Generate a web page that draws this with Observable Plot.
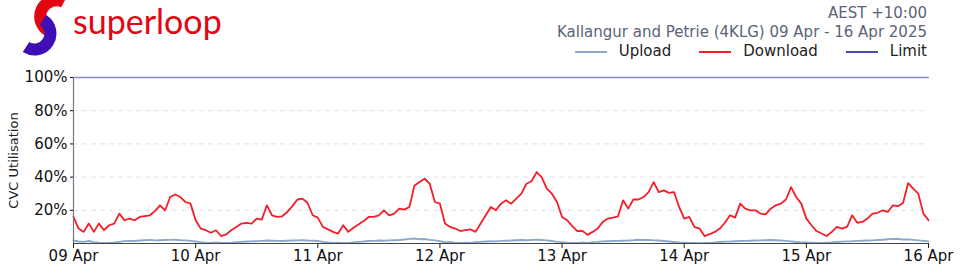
<!DOCTYPE html>
<html><head><meta charset="utf-8">
<script src="https://cdn.jsdelivr.net/npm/d3@7"></script>
<script src="https://cdn.jsdelivr.net/npm/@observablehq/plot@0.6"></script>
<style>
body{margin:0;width:960px;height:274px;position:relative;overflow:hidden;background:#fff;font-family:"DejaVu Sans",sans-serif;}
#logo{position:absolute;left:0;top:0;width:240px;height:56px;}
#logo span{position:absolute;left:73px;top:1px;font-family:"Lato",sans-serif;font-size:34px;line-height:40px;color:#e30613;}
#hdr{position:absolute;right:33px;top:4px;text-align:right;color:#5b6375;font-size:15px;line-height:19px;}
#leg{display:flex;justify-content:flex-end;align-items:center;color:#222;margin-top:0px;}
#leg .it{display:flex;align-items:center;margin-left:28px;}
#leg .sw{width:32px;height:0;border-top:2px solid;margin-right:12px;}
#chart{position:absolute;left:0;top:60px;}
</style></head><body>
<div id="logo">
<svg width="72" height="56" style="position:absolute;left:0;top:0">
<path d="M 64 2 A 15 15 0 1 0 49 31" fill="none" stroke="#e30613" stroke-width="12"/>
<path d="M 43 20 A 15 15 0 1 1 26 47" fill="none" stroke="#3d0fb4" stroke-width="12"/>
</svg>
<span>superloop</span>
</div>
<div id="hdr">
<div>AEST +10:00</div>
<div>Kallangur and Petrie (4KLG) 09 Apr - 16 Apr 2025</div>
<div id="leg"></div>
</div>
<div id="chart"></div>
<script>
const seriesNames = ["Upload", "Download", "Limit"];
const seriesColors = ["#8aaacd", "#f51d27", "#4b4bbd"];
const startDate = Date.UTC(2025, 3, 9);
const xTickLabels = ["09 Apr","10 Apr","11 Apr","12 Apr","13 Apr","14 Apr","15 Apr","16 Apr"];
const yTicks = [20, 40, 60, 80, 100];

// hourly samples, 09 Apr 00:00 .. 16 Apr 00:00 (%)
const download = [
  16,9,7,12,7,12,8,11,12,18,14,15,14,16,16.5,17,19.5,23,20,28,29.5,28,25,24,14,
  9,8,6.5,8,4.5,5.5,8,10,12,12.4,12,15,14.4,23,17,16,16.4,19,22.5,26.5,27,24.4,17,15.6,
  10,8.5,7,6,11,7,9.5,11.5,13.5,16,16,17,20,17,18,21,20.4,22,35,37,39,36,25,24,
  12,10,9,7.5,8,8.5,7,12,17,22,20,24,26,24,27,30,36,37.5,43,40,33,30,25,16,
  14,10.5,7.5,7.6,5.2,7,9,13,15,15.6,16.4,26,21,26.5,26.5,28,31,37,31,32,30.5,31,22,15,
  16,10,9,4.5,5.6,7,9,12.5,17,15.6,24,21,20,20,18,17.5,21,23,24,26.5,34,28,24,15,
  11,7.5,6,4.5,7,10,9,10,17,12.5,13,15,18,18.5,20,19,23,22.5,24.4,36.4,33,30,18,14
];
const upload = [
  1.8,1.2,1.0,1.5,0.8,0.5,0.4,0.4,0.6,1.0,1.4,1.6,1.5,1.8,2.0,2.2,1.9,2.0,2.1,2.2,2.3,2.0,1.9,1.6,1.2,
  0.8,0.5,0.4,0.6,0.3,0.4,0.5,0.8,1.0,1.2,1.3,1.4,1.6,1.8,1.7,1.6,1.5,1.7,1.8,1.9,2.0,1.8,1.7,1.5,
  1.0,0.6,0.4,0.5,0.3,0.4,0.7,1.0,1.2,1.5,1.6,1.8,1.7,1.9,2.0,2.1,2.4,2.8,3.0,2.6,2.7,2.2,1.9,1.4,
  0.6,0.9,0.4,0.3,0.5,0.4,0.8,1.0,1.2,1.4,1.3,1.6,1.7,1.8,2.0,2.1,2.0,2.2,2.3,2.1,1.9,1.5,1.0,0.8,
  0.5,0.4,0.3,0.6,0.4,0.8,1.0,1.3,1.4,1.5,1.6,1.7,1.8,2.0,2.3,2.1,2.2,1.9,1.8,1.5,1.2,0.9,0.6,0.5,
  0.4,0.3,0.2,0.3,0.4,0.6,0.9,1.1,1.2,1.4,1.5,1.6,1.7,1.8,1.9,2.0,2.1,2.0,1.8,1.6,1.3,0.9,0.7,0.6,
  0.5,0.4,0.3,0.5,0.7,0.9,1.1,1.3,1.4,1.6,1.7,1.8,1.9,2.1,2.3,2.6,2.8,2.7,2.4,2.5,2.2,1.9,1.6,1.3
];
const limit = [100, 100];

const t = i => new Date(startDate + i * 3600e3);
const upRows = upload.map((v, i) => ({t: t(i), v}));
const dnRows = download.map((v, i) => ({t: t(i), v}));
const limRows = limit.map((v, i) => ({t: t(i * 168), v}));
const dayTicks = xTickLabels.map((_, i) => t(i * 24));

// legend
const leg = document.getElementById("leg");
seriesNames.forEach((n, i) => {
  const it = document.createElement("div"); it.className = "it";
  const sw = document.createElement("div"); sw.className = "sw"; sw.style.borderTopColor = seriesColors[i];
  const tx = document.createElement("span"); tx.textContent = n;
  it.appendChild(sw); it.appendChild(tx); leg.appendChild(it);
});

const plot = Plot.plot({
  width: 960, height: 214,
  marginLeft: 73, marginRight: 32, marginTop: 17, marginBottom: 31,
  style: {fontFamily: "DejaVu Sans", fontSize: "15px", color: "#111", background: "#fff"},
  x: {type: "utc", domain: [t(0), t(168)]},
  y: {domain: [0, 100]},
  marks: [
    Plot.ruleY([20, 40, 60, 80], {stroke: "#dde2ea", strokeDasharray: "5,4"}),
    Plot.lineY(limRows, {x: "t", y: "v", stroke: seriesColors[2], strokeOpacity: 0.65, strokeWidth: 1.3}),
    Plot.lineY(upRows, {x: "t", y: "v", stroke: seriesColors[0], strokeWidth: 1.9}),
    Plot.lineY(dnRows, {x: "t", y: "v", stroke: seriesColors[1], strokeWidth: 1.8}),
    Plot.ruleX([t(0)], {stroke: "#777", strokeWidth: 1.2}),
    Plot.ruleY([0], {stroke: "#444", strokeWidth: 1.2}),
    Plot.axisX({ticks: dayTicks, tickFormat: (d, i) => xTickLabels[i], tickSize: 5, tickPadding: 2, fontSize: 15, label: null, stroke: "#222"}),
    Plot.axisY({ticks: yTicks, tickFormat: d => d + "%", tickSize: 3, tickPadding: 3, fontSize: 15, label: null}),
    Plot.text(["CVC Utilisation"], {frameAnchor: "left", dx: -60, rotate: -90, textAnchor: "middle", fontSize: 13, fill: "#222"})
  ]
});
document.getElementById("chart").appendChild(plot);
</script>
</body></html>
